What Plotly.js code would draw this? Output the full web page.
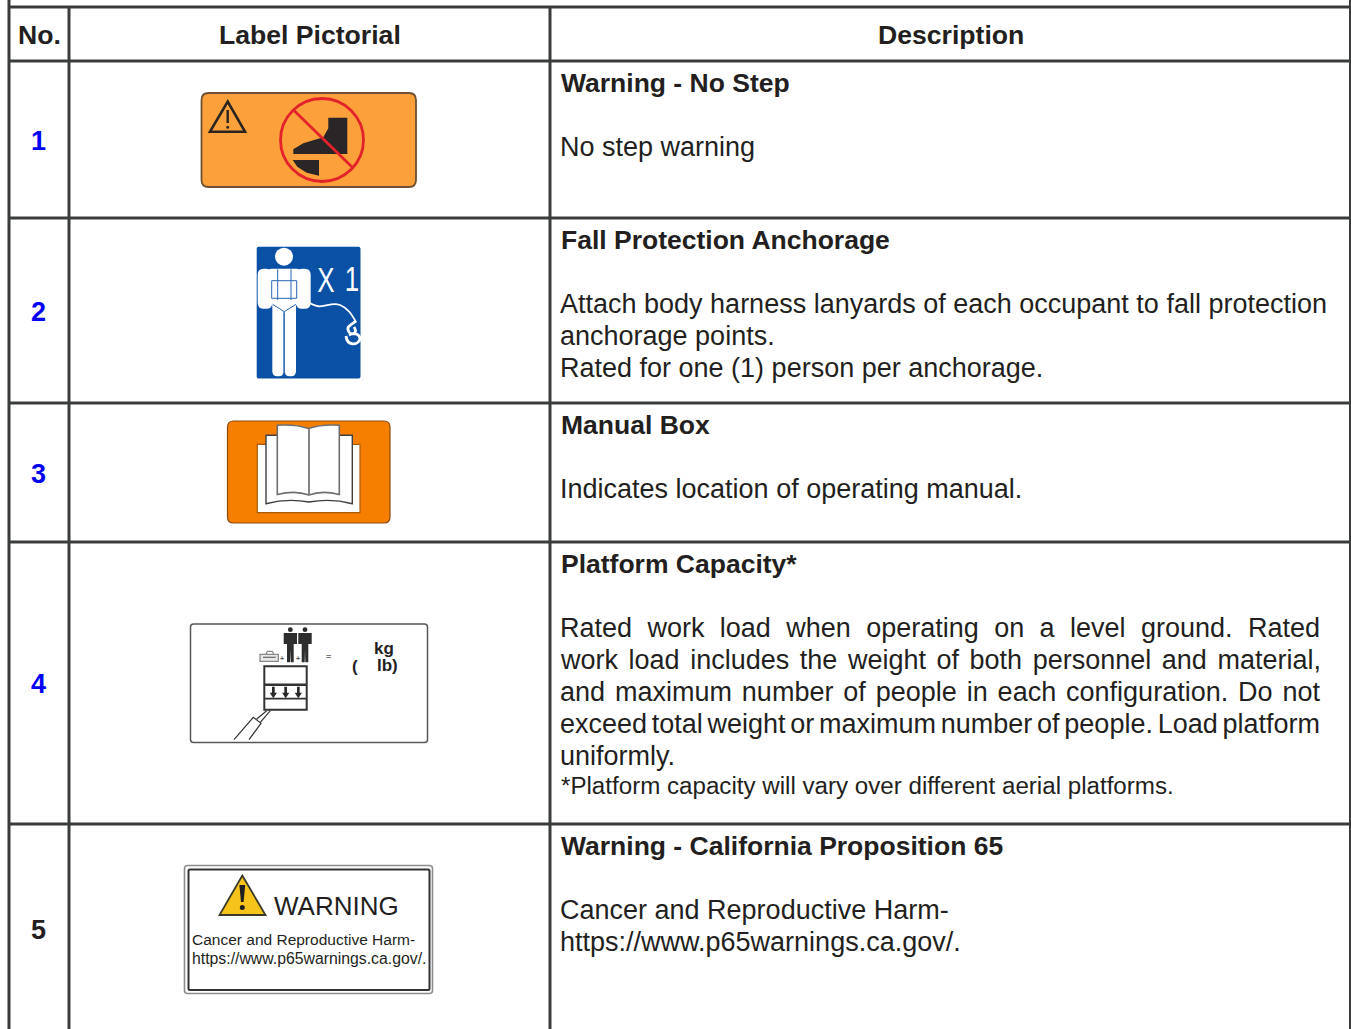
<!DOCTYPE html>
<html><head><meta charset="utf-8">
<script src="https://cdn.plot.ly/plotly-3.0.1.min.js"></script>
<style>html,body{margin:0;padding:0;background:#fff}#c{width:1351px;height:1029px}</style>
</head><body><div id="c"></div>
<script>
const headers = ['No.', 'Label Pictorial', 'Description'];
const rowNumbers = ['1', '2', '3', '4', '5'];
const numberColors = ['#0000f5', '#0000f5', '#0000f5', '#0000f5', '#231f20'];
const titles = ['Warning - No Step', 'Fall Protection Anchorage', 'Manual Box', 'Platform Capacity*', 'Warning - California Proposition 65'];
const bodies = [
  ['No step warning'],
  ['Attach body harness lanyards of each occupant to fall protection', 'anchorage points.', 'Rated for one (1) person per anchorage.'],
  ['Indicates location of operating manual.'],
  ['Rated work load when operating on a level ground. Rated', 'work load includes the weight of both personnel and material,', 'and maximum number of people in each configuration. Do not', 'exceed total weight or maximum number of people. Load platform', 'uniformly.'],
  ['Cancer and Reproductive Harm-', 'https://www.p65warnings.ca.gov/.']
];
const footnote = '*Platform capacity will vary over different aerial platforms.';
const colEdges = [9, 69, 550, 1350.5];
const rowEdges = [7, 61, 218, 403, 542, 824];
const numberY = [141, 312, 474, 684, 930];
const titleY = [83, 240, 425, 564, 846];
const bodyY = [147, 304, 489, 628, 910];

const INK = '#231f20', GRID = '#3a3c3c', FONT = 'Liberation Sans, Arial, sans-serif';
const shapes = [], ann = [];
const line = (x0,y0,x1,y1,c,w) => shapes.push({type:'line',x0,y0,x1,y1,line:{color:c,width:w}});
const path = (d,fill,c,w) => shapes.push({type:'path',path:d,fillcolor:fill||'rgba(0,0,0,0)',line:{color:c||'rgba(0,0,0,0)',width:w||0}});
const circle = (cx,cy,r,fill,c,w) => shapes.push({type:'circle',x0:cx-r,x1:cx+r,y0:cy-r,y1:cy+r,fillcolor:fill||'rgba(0,0,0,0)',line:{color:c||'rgba(0,0,0,0)',width:w||0}});
const rrect = (x0,y0,x1,y1,r,fill,c,w) => path(`M${x0+r},${y0}L${x1-r},${y0}Q${x1},${y0} ${x1},${y0+r}L${x1},${y1-r}Q${x1},${y1} ${x1-r},${y1}L${x0+r},${y1}Q${x0},${y1} ${x0},${y1-r}L${x0},${y0+r}Q${x0},${y0} ${x0+r},${y0}Z`,fill,c,w);
const text = (s,x,y,size,o={}) => ann.push({text:s,x,y,xref:'x',yref:'y',showarrow:false,xanchor:o.anchor||'left',yanchor:'middle',align:o.anchor==='center'?'center':'left',
  font:{family:FONT,size,color:o.color||INK,weight:o.bold?700:400},borderpad:0});
const Z = (ox,oy) => (pts,close=true) => pts.map((p,i)=>(i?'L':'M')+(ox+p[0]/3).toFixed(1)+','+(oy+p[1]/3).toFixed(1)).join('')+(close?'Z':'');

// grid
line(colEdges[0],0,colEdges[0],1029,GRID,3);
line(colEdges[1],rowEdges[0],colEdges[1],1029,GRID,3);
line(colEdges[2],rowEdges[0],colEdges[2],1029,GRID,3);
line(colEdges[3],0,colEdges[3],1029,GRID,3);
rowEdges.forEach(y=>line(colEdges[0],y,1351,y,GRID,3));

// --- label 1
rrect(201.5,93,416,187,7,'#fba03a','#6d5030',1.8);
let z = Z(190,80);
path(z([[113,65],[60,155],[165,155]]),'rgba(0,0,0,0)','#2a2420',2.6);
line(227.7,110,227.7,123,'#2a2420',2.4); circle(227.7,127.3,1.5,'#2a2420');
path(z([[415,113],[472,113],[472,222],[310,222],[310,208],[340,190],[400,172],[415,145]]),'#2a2526');
path(z([[308,240],[387,240],[387,287],[350,278],[322,260]]),'#2a2526');
circle(322,140,41.5,null,'#e4222c',2.8);
path(z([[308,88],[490,265]],false),null,'#e4222c',2.8);

// --- label 2
rrect(256.7,246.7,360.5,378.5,2,'#0a50a5');
const fig = (a,b,c,d,r) => rrect(245+a/3,240+b/3,245+c/3,240+d/3,r,'#fff');
z = Z(245,240);
circle(284,256.7,9,'#fff');
fig(38,86,82,206,6); fig(153,86,197,206,6); fig(70,86,165,195,3);
fig(82,180,116,409,5); fig(119,180,153,409,5);
path(z([[82,190],[118,218],[153,190]]),'#fff');
const BL = '#2a66b0';
path(z([[80,122],[155,122],[155,175],[80,175]]),null,BL,1);
path(z([[98,88],[98,180]],false),null,BL,1);
path(z([[138,88],[138,180]],false),null,BL,1);
path(z([[83,193],[118,215],[153,193]],false),null,BL,1);
path(z([[117,215],[117,400]],false),null,BL,1);
path('M308,302C323,312 328,301 340,305C348,308 352,315 356,322',null,'#fff',1.8);
path('M356,321C349,326 346,327 349,332C352,336 358,333 354,327M346,336C347,346 358,346 360,339C360,334 354,332 349,335',null,'#fff',2.8);
const narrow = [ann.length, ann.length+1];
text('X',318.5,279,36,{color:'#fff',anchor:'center'});
text('1',351.5,278,36,{color:'#fff',anchor:'center'});
ann[narrow[0]].x=326; ann[narrow[1]].x=352;

// --- label 3
rrect(227.5,421,390,523,6,'#f67f00','#8a4c10',1.2);
z = Z(220,412);
path(z([[112,97],[420,97],[420,302],[112,302]]),'#fff','#a85a08',1.2);
path('M266,435.3L352.3,435.3L352.3,503.7Q331,498 309,502Q287,498 266,503.7Z','#fff','#3f3f3f',1.4);
path('M277.3,425.3Q295,424 308.5,428.5Q322,424 339.3,425.3L339.3,494.5Q322,490 309,495Q295,490 277.3,494.5Z','#fff','#6f6f6f',1.6);
line(309,428.5,309,495,'#777',1.8);

// --- label 4
rrect(190.5,624,427.5,742.5,3,'#fff','#55585a',1.5);
z = Z(185,618);
[316,360].forEach(cx=>{
  circle(185+cx/3,618+35/3,2.4,'#2a2a2a');
  path(z([[cx-20,45],[cx+20,45],[cx+20,78],[cx+10,78],[cx+10,133],[cx+1,133],[cx,95],[cx-1,133],[cx-10,133],[cx-10,78],[cx-20,78]]),'#2e2e2e');
});
path(z([[225,109],[280,109],[280,130],[225,130]]),'#e8e8e8','#8a8a8a',1.3);
path(z([[243,109],[247,100],[262,100],[266,109]],false),null,'#8a8a8a',1.2);
path(z([[234,118],[272,118]],false),null,'#666',1.2);
path(z([[238,145],[365,145],[365,275],[238,275]]),'#fff','#333',2);
path(z([[238,200],[365,200]],false),null,'#333',2.4);
path(z([[238,242],[365,242]],false),null,'#333',1.8);
[265,302,340].forEach(x=>{
  path(z([[x-4,206],[x+4,206],[x+4,224],[x+11,224],[x,241],[x-11,224],[x-4,224]]),'#2a2a2a');
});
path(z([[147,365],[205,298],[228,316],[192,365]],false),null,'#333',1.2);
path(z([[215,303],[245,278]],false),null,'#333',1.2);
path(z([[226,313],[256,278]],false),null,'#333',1.2);
text('+',281.8,658,7,{anchor:'center',color:'#555',bold:true});
text('+',297.5,658,7,{anchor:'center',color:'#555',bold:true});
text('=',328.5,657,9,{anchor:'center',color:'#777',bold:true});
text('kg',384.3,648,17,{anchor:'center',bold:true});
text('(',355,666,17,{anchor:'center',bold:true});
text('lb)',387.5,665.5,17,{anchor:'center',bold:true});

// --- label 5
rrect(184.5,865.5,432.5,993.5,3,'#fff','#8b8d8f',1.6);
rrect(188.5,869.5,429.5,990,1.5,'#fff','#333',2);
path('M242.3,875.5L265.5,915L219.5,915Z','#f6c31a','#3a3a2a',1.8);
path('M239.4,885L245.2,885L243.6,902L241,902Z','#1f1f1f'); circle(242.3,907.6,2.5,'#1f1f1f');
text('WARNING',272.5,905.5,26,{});
text('Cancer and Reproductive Harm-',190.5,939.5,15.5,{});
text('https://www.p65warnings.ca.gov/.',190.5,958.5,15.8,{});

// --- header + row text
text(headers[0],39,35,26.6,{anchor:'center',bold:true});
text(headers[1],309.5,35,26.6,{anchor:'center',bold:true});
text(headers[2],950.5,35,26.6,{anchor:'center',bold:true});
const justified = [];
rowNumbers.forEach((n,i)=>{
  text(n,38.5,numberY[i],27,{anchor:'center',bold:true,color:numberColors[i]});
  text(titles[i],559.5,titleY[i],26.5,{bold:true});
  bodies[i].forEach((l,j)=>{
    if(i===3 && j<4) justified.push(ann.length);
    text(l,558.7,bodyY[i]+32*j,27);
  });
});
text(footnote,559.5,785.5,24.15);

const JUSTIFY_TO = 760;
Plotly.newPlot('c',[],{
  width:1351,height:1029,margin:{l:0,r:0,t:0,b:0},paper_bgcolor:'#fff',plot_bgcolor:'#fff',showlegend:false,
  xaxis:{range:[0,1351],visible:false,fixedrange:true},
  yaxis:{range:[1029,0],visible:false,fixedrange:true},
  shapes,annotations:ann
},{displayModeBar:false,staticPlot:true}).then(gd=>{
  const texts = gd.querySelectorAll('.annotation text.annotation-text');
  justified.forEach(i=>{
    const t = texts[i]; if(!t) return;
    const gaps = t.textContent.split(' ').length-1;
    t.style.wordSpacing = ((JUSTIFY_TO - t.getComputedTextLength())/gaps).toFixed(2)+'px';
  });
  narrow.forEach(i=>{
    const t = texts[i]; if(!t) return;
    t.style.transformBox='fill-box'; t.style.transformOrigin='center'; t.style.transform='scaleX(0.72)';
  });
});
</script></body></html>
